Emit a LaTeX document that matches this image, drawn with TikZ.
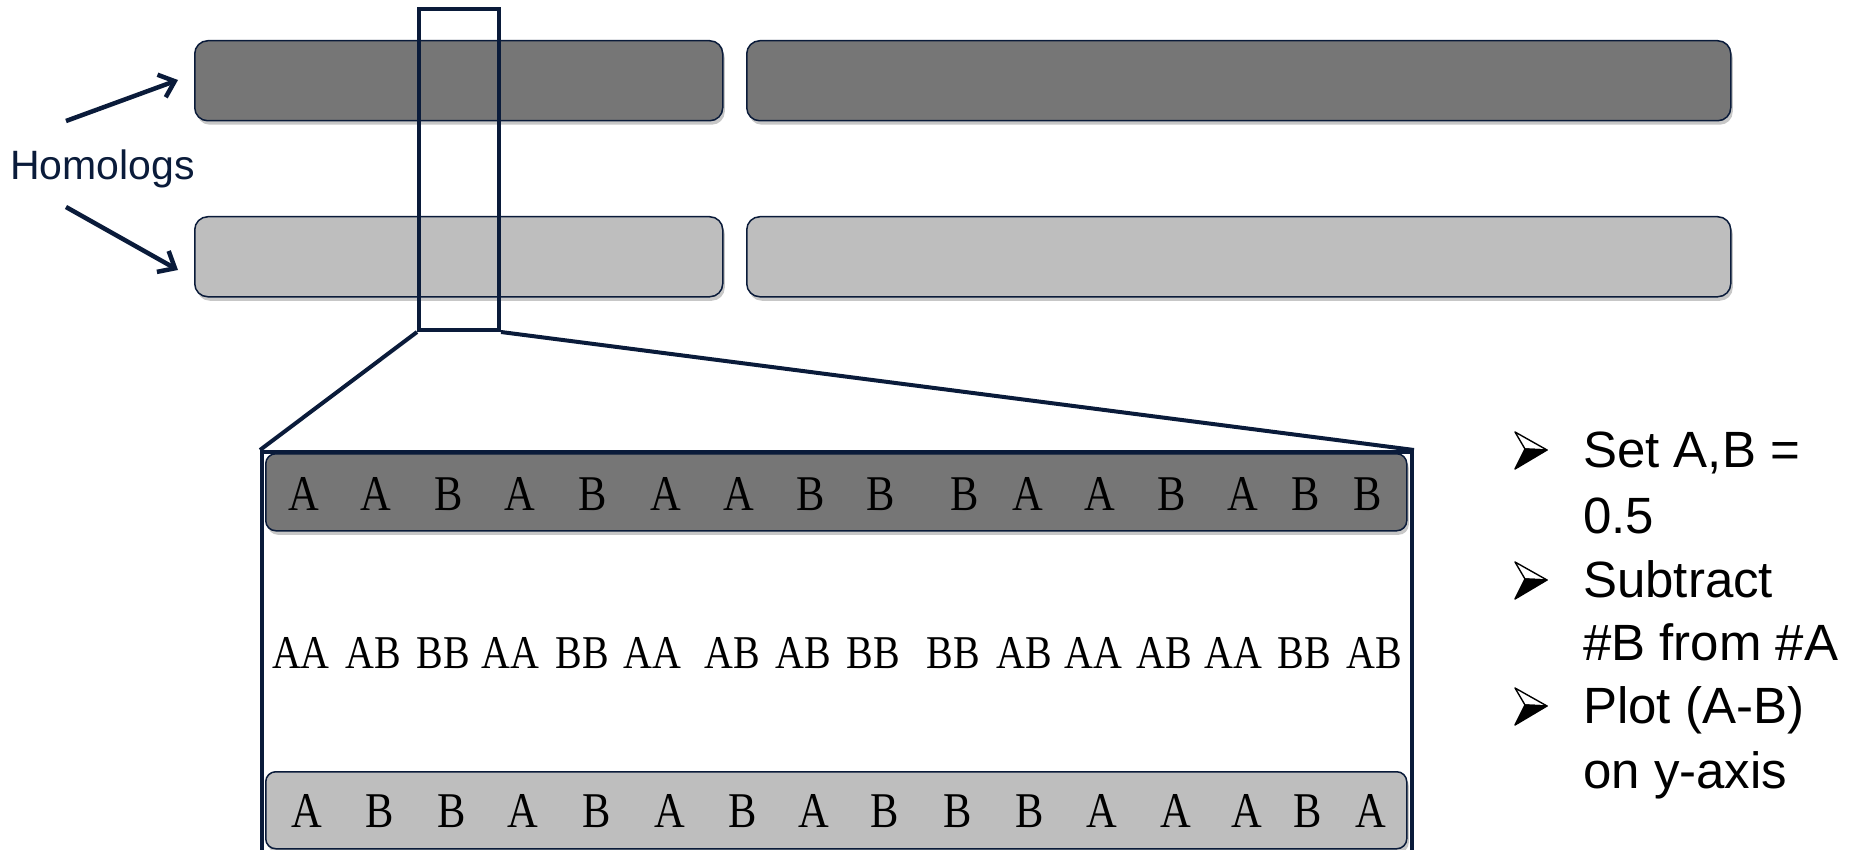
\documentclass[tikz,border=0pt]{standalone}
\usepackage{fontspec}
\usetikzlibrary{arrows.meta,shadows}
\newfontfamily\sansf{Liberation Sans}
\newfontfamily\letf[FakeStretch=0.85]{Liberation Serif}
\definecolor{navy}{RGB}{10,27,58}
\definecolor{darkbar}{RGB}{118,118,118}
\definecolor{lightbar}{RGB}{190,190,190}
\definecolor{edgeblue}{RGB}{40,120,225}
\tikzset{
  chrom/.style={draw=navy, line width=1.5pt, rounded corners=13pt, inner sep=0pt,
    anchor=north west, drop shadow={shadow xshift=2pt, shadow yshift=-4pt, opacity=0.22, fill=black}},
  frame/.style={draw=navy, line width=4pt, inner sep=0pt, anchor=north west},
  conn/.style={draw=navy, line width=4pt},
  harrow/.style={draw=navy, line width=4.5pt, -{Straight Barb[length=14pt,width=24pt]}},
  letter/.style={font=\letf\fontsize{50}{50}\selectfont, inner sep=0pt, anchor=base},
  pair/.style={font=\letf\fontsize{47}{47}\selectfont, inner sep=0pt, anchor=base},
  btext/.style={font=\sansf\fontsize{51}{51}\selectfont, inner sep=0pt, anchor=base west},
  label/.style={font=\sansf\fontsize{41}{41}\selectfont, text=navy, inner sep=0pt, anchor=base west},
  bulletmark/.pic={
    \filldraw[fill=white, draw=black, line width=1.4pt, line join=round] (-32,-18) -- (0,0) -- (-22,-1) -- cycle;
    \filldraw[fill=black, draw=black, line width=1.4pt, line join=round] (-22,-1) -- (0,0) -- (-32,19) -- cycle;
  }
}
\begin{document}
\begin{tikzpicture}[x=1pt,y=-1pt]
\useasboundingbox (0,0) rectangle (1862,850);
\clip (0,0) rectangle (1862,850);

% top chromosomes
\node[chrom, fill=darkbar, minimum width=528pt, minimum height=80pt] (c1) at (194,40) {};
\node[chrom, fill=darkbar, minimum width=984pt, minimum height=80pt] (c2) at (746,40) {};
\node[chrom, fill=lightbar, minimum width=528pt, minimum height=80pt] (c3) at (194,216) {};
\node[chrom, fill=lightbar, minimum width=984pt, minimum height=80pt] (c4) at (746,216) {};

% Homologs label and arrows
\node[label] (hom) at (10,180) {Homologs};
\coordinate (a1s) at (66,121);
\coordinate (a1e) at (178,80);
\coordinate (a2s) at (66,207);
\coordinate (a2e) at (178,270);
\draw[harrow] (a1s) -- (a1e);
\draw[harrow] (a2s) -- (a2e);

% zoom window
\node[frame, minimum width=80pt, minimum height=321pt] (zb) at (417,7) {};

% enlarged region
\node[chrom, fill=darkbar, minimum width=1141pt, minimum height=77pt, rounded corners=10pt] (d1) at (265,453) {};
\node[chrom, fill=lightbar, minimum width=1141pt, minimum height=77pt, rounded corners=10pt] (d2) at (265,771) {};
\draw[edgeblue, line width=2pt] (263,458) -- (263,525);
\node[frame, minimum width=1150pt, minimum height=440pt] (bb) at (260,450) {};

\draw[conn] (zb.south west) -- (bb.north west);
\draw[conn] (zb.south east) -- (bb.north east);

% top row letters
\foreach \x/\t [count=\i] in {304/A,376/A,449/B,520/A,593/B,666/A,739/A,811/B,881/B,965/B,1028/A,1100/A,1172/B,1243/A,1306/B,1368/B}
  \node[letter] (t\i) at (\x,510) {\t};
% bottom row letters
\foreach \x/\t [count=\i] in {307/A,380/B,452/B,523/A,597/B,670/A,743/B,814/A,885/B,958/B,1030/B,1102/A,1176/A,1247/A,1308/B,1371/A}
  \node[letter] (u\i) at (\x,827) {\t};
% genotypes
\foreach \x/\t [count=\i] in {301/AA,373/AB,443/BB,510/AA,582/BB,652/AA,732/AB,803/AB,873/BB,953/BB,1024/AB,1093/AA,1164/AB,1233/AA,1304/BB,1374/AB}
  \node[pair] (g\i) at (\x,668) {\t};

% bullet list
\pic at (1547,450) {bulletmark};
\pic at (1547,580) {bulletmark};
\pic at (1547,706) {bulletmark};
\node[btext] (l1) at (1583,467) {Set A,B =};
\node[btext] (l2) at (1583,533) {0.5};
\node[btext] (l3) at (1583,597) {Subtract};
\node[btext] (l4) at (1583,660) {\#B from \#A};
\node[btext] (l5) at (1583,723) {Plot (A-B)};
\node[btext] (l6) at (1583,788) {on y-axis};
\end{tikzpicture}
\end{document}
